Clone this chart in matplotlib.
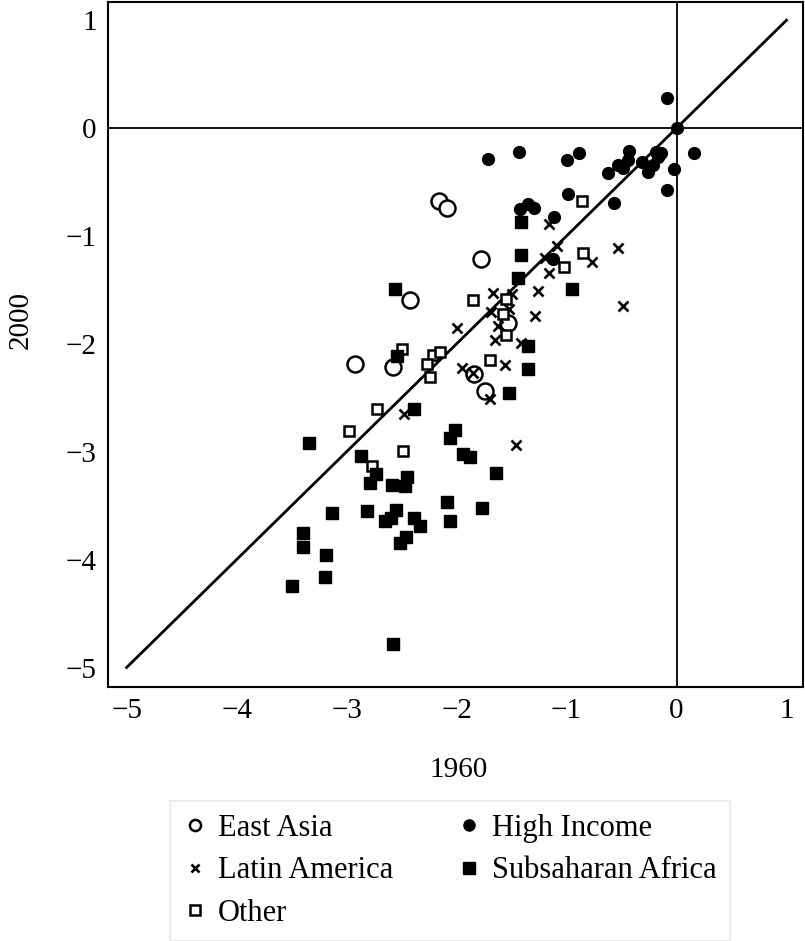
import matplotlib
matplotlib.use("Agg")
import matplotlib.pyplot as plt
from matplotlib.lines import Line2D

plt.rcParams['font.family'] = ['Liberation Serif', 'DejaVu Serif']
plt.rcParams['axes.unicode_minus'] = True

east_asia_x = [-2.16, -2.09, -1.78, -2.42, -2.92, -2.58, -1.53, -1.84, -1.74]
east_asia_y = [-0.68, -0.745, -1.215, -1.59, -2.19, -2.21, -1.81, -2.28, -2.44]

high_income_x = [-0.09, 0.00, -1.71, -1.43, -1.00, -0.89, -0.43, -0.44, -0.53, -0.49, -0.62,
                 -0.31, -0.26, -0.21, -0.19, -0.14, -0.17, -0.02, 0.16, -0.09, -0.99, -0.57,
                 -1.42, -1.35, -1.30, -1.11, -1.12]
high_income_y = [0.28, 0.00, -0.29, -0.22, -0.30, -0.235, -0.21, -0.30, -0.34, -0.37, -0.42,
                 -0.31, -0.41, -0.34, -0.22, -0.23, -0.27, -0.38, -0.235, -0.575, -0.61, -0.69,
                 -0.75, -0.70, -0.74, -0.82, -1.215]

latin_x = [-1.16, -1.09, -0.53, -1.20, -0.77, -1.16, -1.26, -0.49, -1.67, -1.50, -1.52, -1.69,
           -1.29, -1.62, -2.00, -1.65, -1.41, -1.56, -1.95, -1.85, -1.70, -2.48, -1.70, -1.46]
latin_y = [-0.89, -1.09, -1.11, -1.20, -1.245, -1.34, -1.51, -1.65, -1.53, -1.54, -1.68, -1.70,
           -1.74, -1.83, -1.85, -1.96, -1.99, -2.20, -2.22, -2.27, -2.51, -2.65, -2.15, -2.94]

other_x = [-0.86, -0.85, -1.02, -1.85, -1.55, -1.58, -1.55, -2.50, -2.21, -2.15, -2.27, -2.24,
           -1.70, -2.72, -2.98, -2.49, -2.77]
other_y = [-0.68, -1.16, -1.29, -1.595, -1.58, -1.72, -1.92, -2.05, -2.10, -2.08, -2.19, -2.31,
           -2.15, -2.60, -2.81, -2.99, -3.13]

ssa_x = [-1.41, -1.41, -2.56, -1.44, -0.95, -1.35, -1.35, -1.52, -2.54, -2.39, -2.01, -2.06,
         -3.34, -2.87, -2.73, -2.79, -2.59, -2.45, -2.47, -1.94, -1.88, -1.64, -3.13, -2.81,
         -2.55, -2.60, -2.65, -2.39, -2.33, -2.09, -2.06, -1.77, -2.46, -2.51, -3.40, -3.40,
         -3.19, -3.50, -3.20, -2.58]
ssa_y = [-0.87, -1.18, -1.49, -1.385, -1.49, -2.02, -2.23, -2.46, -2.11, -2.60, -2.80, -2.87,
         -2.92, -3.04, -3.21, -3.29, -3.31, -3.23, -3.32, -3.02, -3.05, -3.20, -3.57, -3.55,
         -3.54, -3.61, -3.64, -3.61, -3.69, -3.47, -3.64, -3.52, -3.79, -3.85, -3.75, -3.88,
         -3.96, -4.24, -4.16, -4.78]

ticks = [-5, -4, -3, -2, -1, 0, 1]
diag = [-5, 1]

fig = plt.figure(figsize=(8.05, 9.41), dpi=100)
ax = fig.add_axes([0.134, 0.270, 0.8635, 0.728])

ax.axhline(0, color='black', lw=1.3, zorder=1)
ax.axvline(0, color='black', lw=1.3, zorder=1)
ax.plot(diag, diag, color='black', lw=2.0, zorder=2)

ax.plot(east_asia_x, east_asia_y, 'o', ms=11.5, mfc='white', mec='black', mew=1.8, ls='none', zorder=3)
ax.plot(high_income_x, high_income_y, 'o', ms=8.5, mfc='black', mec='black', ls='none', zorder=3)
ax.plot(latin_x, latin_y, 'x', ms=6.5, mec='black', mew=1.9, ls='none', zorder=3)
ax.plot(other_x, other_y, 's', ms=7, mfc='white', mec='black', mew=1.8, ls='none', zorder=3)
ax.plot(ssa_x, ssa_y, 's', ms=8, mfc='black', mec='black', ls='none', zorder=3)

ax.set_xlim(-5.17, 1.15)
ax.set_ylim(-5.18, 1.17)
ax.set_xticks(ticks)
ax.set_yticks(ticks)
ax.tick_params(length=0, labelsize=21, pad=8)
for s in ax.spines.values():
    s.set_linewidth(1.5)
ax.set_xlabel('1960', fontsize=21)
ax.set_ylabel('2000', fontsize=21)
ax.xaxis.set_label_coords(0.505, -0.103)
ax.yaxis.set_label_coords(-0.107, 0.535)

handles = [
    Line2D([], [], marker='o', ls='none', ms=8, mfc='white', mec='black', mew=1.8),
    Line2D([], [], marker='x', ls='none', ms=6, mec='black', mew=1.9),
    Line2D([], [], marker='s', ls='none', ms=6.5, mfc='white', mec='black', mew=1.8),
    Line2D([], [], marker='o', ls='none', ms=8, mfc='black', mec='black'),
    Line2D([], [], marker='s', ls='none', ms=8, mfc='black', mec='black'),
]
labels = ['East Asia', 'Latin America', 'Other', 'High Income', 'Subsaharan Africa']
leg = fig.legend(handles, labels, ncol=2, loc='upper left', bbox_to_anchor=(0.211, 0.149),
                 borderaxespad=0.0,
                 fontsize=22, frameon=True, fancybox=False, edgecolor='#dde2ec',
                 handlelength=0.8, handletextpad=0.35, columnspacing=2.1, labelspacing=0.45,
                 borderpad=0.42)
leg.get_frame().set_linewidth(1.2)

fig.savefig('out.png', dpi=100)
